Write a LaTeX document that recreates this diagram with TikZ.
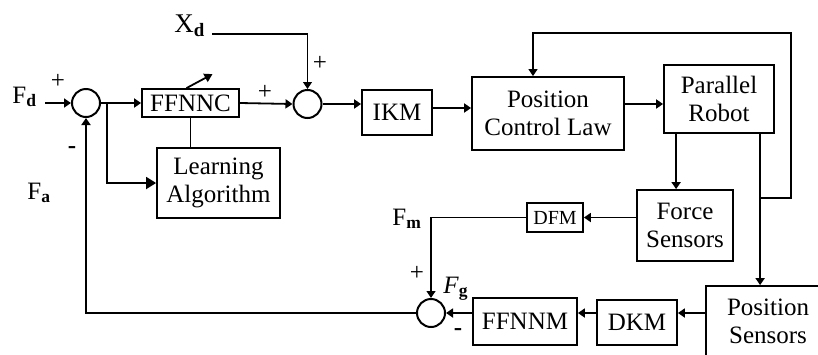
\documentclass[tikz,border=0pt]{standalone}
\usepackage{fontspec}
\setmainfont{Liberation Serif}
\usepackage{tikz}
\usetikzlibrary{
    arrows.meta,
    calc,
    positioning
}
\tikzset
{
  block/.style={draw,line width=0.9pt,align=center,inner sep=0pt,font=\fontsize{12.5}{14}\selectfont},
  sumnode/.style={draw,line width=1pt,circle,minimum size=14pt,inner sep=0pt},
  signal/.style={line width=0.9pt,-{Triangle[length=3.5pt,width=4.5pt]}},
  thinsignal/.style={line width=0.6pt,-{Triangle[length=3.5pt,width=4.5pt]}},
  siglabel/.style={inner sep=0pt,font=\fontsize{12.5}{14}\selectfont}
}

\begin{document}
\begin{tikzpicture}[x=0.5pt,y=-0.5pt]
        \useasboundingbox (0,0) rectangle (818,354);

        % Draw summing junctions
        \node[sumnode] (s1) at (86,103) {};
        \node[sumnode] (s2) at (307.5,104) {};
        \node[sumnode] (s3) at (431,313) {};

        % Draw blocks of the forward path
        \node[block,minimum width=48.5pt,minimum height=14pt] (ffnnc) at (190.5,103) {FFNNC};
        \node[block,minimum width=61.5pt,minimum height=35pt] (la) at (218.5,183) {Learning\\Algorithm};
        \node[block,minimum width=35pt,minimum height=22.5pt] (ikm) at (397,112.5) {IKM};
        \node[block,minimum width=76pt,minimum height=36.5pt] (pcl) at (548,113.5) {Position\\Control Law};
        \node[block,minimum width=55pt,minimum height=34pt] (pr) at (719,99) {Parallel\\Robot};

        % Draw blocks of the feedback path
        \node[block,minimum width=48pt,minimum height=35.5pt] (fs) at (685,225.5) {Force\\Sensors};
        \node[block,minimum width=28pt,minimum height=14.5pt,font=\fontsize{10}{12}\selectfont] (dfm) at (555,217.5) {DFM};
        \node[block,minimum width=52pt,minimum height=23.5pt] (ffnnm) at (525,321.5) {FFNNM};
        \node[block,minimum width=40pt,minimum height=22.5pt] (dkm) at (637,322.5) {DKM};
        \node[block,minimum width=62pt,minimum height=35pt] (ps) at (768,321) {Position\\Sensors};

        % Inputs
        \node[siglabel,anchor=base west] (fd) at (12,103) {F\textsubscript{\textbf{d}}};
        \coordinate (fdin) at (45,103);
        \node[siglabel,anchor=base west,font=\fontsize{13.5}{15}\selectfont] (xd) at (174,32) {X\textsubscript{\textbf{d}}};
        \coordinate (xdin) at (212,34);

        % Signs and signal names
        \node[siglabel] (plus1) at (58,81) {+};
        \node[siglabel] (minus1) at (72,150) {\textbf{-}};
        \node[siglabel,anchor=base west] (fa) at (27,199) {F\textsubscript{\textbf{a}}};
        \node[siglabel] (plus2) at (265,92) {+};
        \node[siglabel] (plus3) at (320,63) {+};
        \node[siglabel,anchor=base west] (fm) at (392,225) {F\textsubscript{\textbf{m}}};
        \node[siglabel] (plus4) at (417,273) {+};
        \node[siglabel,anchor=base west] (fg) at (443,293) {\textit{F}\textsubscript{\textbf{g}}};
        \node[siglabel] (minus2) at (458,332) {\textbf{-}};

        % Forward path
        \draw[signal] (fdin) -- (s1.west);
        \draw[signal] (s1.east) -- (ffnnc.west);
        \coordinate (br) at (107,103);
        \draw[line width=0.9pt,-{Triangle[length=5pt,width=6pt]}] (br) |- (la.west);
        \draw[line width=0.9pt] (ffnnc.south) -- (ffnnc.south |- la.north);
        \draw[line width=0.9pt,-{Triangle[length=4pt,width=4.5pt]}] ($(ffnnc.north)+(-4,0)$) -- ++(26,-14);
        \draw[signal] (ffnnc.east) -- (s2.west);
        \draw[thinsignal] (xdin) -| (s2.north);
        \draw[signal] (s2.east) -- (s2.east -| ikm.west);
        \draw[signal] ($(ikm.east)+(0,-4.5)$) -- ($(pcl.west)+(0,-5.5)$);
        \draw[signal] ($(pcl.east)+(0,-9.5)$) -- ($(pr.west)+(0,5)$);

        % Robot outputs and position loop
        \coordinate (prf) at ($(pr.south west)+(13,0)$);
        \coordinate (prp) at ($(pr.south west)+(97,0)$);
        \draw[signal] (prf) -- (prf |- fs.north);
        \draw[signal] (prp) -- (prp |- ps.north);
        \coordinate (lp) at ($(prp)+(0,64)$);
        \coordinate (loopc) at (791,33);
        \draw[thinsignal] (lp) -| (loopc) -| ($(pcl.north)+(-15,0)$);

        % Force feedback
        \draw[signal] (fs.west |- dfm.east) -- (dfm.east);
        \draw[thinsignal] (dfm.west) -| (s3.north);
        \draw[signal] (ps.west |- s3.east) -- (s3.east -| dkm.east);
        \draw[signal] (s3.east -| dkm.west) -- (s3.east -| ffnnm.east);
        \draw[signal] (s3.east -| ffnnm.west) -- (s3.east);
        \draw[signal] (s3.west) -| (s1.south);
    \end{tikzpicture}
\end{document}
